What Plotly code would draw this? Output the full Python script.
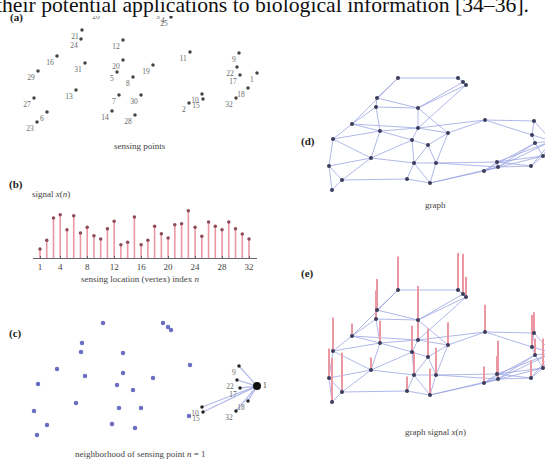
import plotly.graph_objects as go

W, H = 545, 462

# ---------------- data ----------------
node_ids = list(range(1, 33))
# sensing point locations (pixel-like units as in panel (a))
node_x = [257, 189, 163, 168, 117, 47, 119, 133, 239, 202, 190, 123, 76, 112, 203, 57,
          240, 248, 153, 123, 82, 237, 37, 81, 171, 103, 34, 135, 38, 141, 85, 236]
node_y = [73, 103, 10, 14, 72, 112, 95, 77, 53, 94, 52, 40, 90, 111, 99, 56,
          75, 88, 65, 60, 30, 67, 122, 39, 17, 10, 98, 115, 71, 95, 63, 98]
# signal x(n)
signal = [0.27, 0.53, 1.20, 1.30, 0.85, 1.27, 0.75, 0.92, 0.67, 0.57, 0.88, 1.10, 0.40, 0.47,
          1.23, 0.40, 0.53, 0.95, 0.73, 0.60, 1.00, 1.03, 1.42, 0.92, 0.65, 1.08, 0.95, 0.85,
          1.08, 0.88, 0.72, 0.57]
edges = [(26, 3), (26, 21), (26, 16), (3, 4), (4, 25), (3, 25), (25, 12), (25, 20), (4, 12),
         (21, 24), (21, 12), (24, 12), (24, 31), (24, 16), (16, 31), (16, 20), (16, 29),
         (12, 20), (12, 19), (31, 20), (31, 5), (31, 13), (31, 29), (20, 11), (20, 19),
         (20, 5), (11, 9), (11, 19), (11, 22), (29, 13), (29, 27), (13, 27), (13, 6),
         (13, 7), (13, 5), (5, 7), (5, 8), (8, 30), (8, 19), (8, 7), (7, 30), (7, 14),
         (7, 28), (30, 28), (30, 10), (30, 15), (19, 30), (27, 6), (27, 23), (6, 23),
         (6, 14), (14, 28), (28, 2), (28, 15), (2, 15), (2, 10), (10, 15), (10, 32),
         (15, 32), (10, 1), (15, 1), (2, 18), (10, 18), (15, 17), (2, 17), (9, 22),
         (22, 17), (17, 18), (18, 32), (9, 1), (22, 1), (17, 1), (18, 1), (32, 1)]
center_node = 1
b_ticks = [1, 4, 8, 12, 16, 20, 24, 28, 32]

# ---------------- helpers ----------------
SERIF = "Liberation Serif, Times New Roman, serif"
fig = go.Figure()


def xdom(p0, p1):
    return [p0 / W, p1 / W]


def ydom(p0, p1):
    return [1 - p1 / H, 1 - p0 / H]


def pixel_axes(idx, px0, px1, py0, py1, offx, offy):
    xa = dict(domain=xdom(px0, px1), range=[px0 - offx, px1 - offx], visible=False,
              anchor="y%d" % idx, fixedrange=True)
    ya = dict(domain=ydom(py0, py1), range=[py1 - offy, py0 - offy], visible=False,
              anchor="x%d" % idx, fixedrange=True)
    fig.layout["xaxis%d" % idx] = xa
    fig.layout["yaxis%d" % idx] = ya


pos = {n: (node_x[i], node_y[i]) for i, n in enumerate(node_ids)}
val = {n: signal[i] for i, n in enumerate(node_ids)}


def edge_xy(edge_list):
    ex, ey = [], []
    for a, b in edge_list:
        ex += [pos[a][0], pos[b][0], None]
        ey += [pos[a][1], pos[b][1], None]
    return ex, ey


EDGE = "rgba(150,160,225,0.75)"
NODE = "#3b3d5c"
STEM = "#ec98a3"
LABEL = "rgb(105,105,105)"

# ---------------- (a) sensing points ----------------
pixel_axes(1, 0, 280, 16, 142, 0, 0)
fig.add_trace(go.Scatter(x=node_x, y=node_y, xaxis="x1", yaxis="y1", mode="markers+text",
                         text=[str(n) for n in node_ids], textposition="bottom left",
                         textfont=dict(family=SERIF, size=7.5, color=LABEL),
                         marker=dict(size=3.5, color="#444"), showlegend=False))

# ---------------- (b) signal stem plot ----------------
px_per_n = (249 - 40) / 31.0
px_per_v = 100 / 3.0
fig.layout["xaxis2"] = dict(domain=xdom(33, 257),
                            range=[1 + (33 - 40) / px_per_n, 1 + (257 - 40) / px_per_n],
                            anchor="y2", showgrid=False, zeroline=False, showline=True,
                            linecolor="#666", linewidth=1.2, tickvals=b_ticks,
                            ticks="inside", ticklen=2, tickcolor="#666",
                            tickfont=dict(family=SERIF, size=9, color="#444"), fixedrange=True)
fig.layout["yaxis2"] = dict(domain=ydom(200, 258), range=[0, 58 / px_per_v], visible=False,
                            anchor="x2", fixedrange=True)
sx, sy = [], []
for n in node_ids:
    sx += [n, n, None]
    sy += [0, val[n], None]
fig.add_trace(go.Scatter(x=sx, y=sy, xaxis="x2", yaxis="y2", mode="lines",
                         line=dict(color=STEM, width=1.6), showlegend=False))
fig.add_trace(go.Scatter(x=node_ids, y=signal, xaxis="x2", yaxis="y2", mode="markers",
                         marker=dict(size=3.5, color="#8f4a58"), showlegend=False))

# ---------------- (c) neighborhood of n = 1 ----------------
pixel_axes(3, 0, 280, 300, 445, 0, 313)
nbrs = [b if a == center_node else a for a, b in edges if center_node in (a, b)]
cex, cey = edge_xy([(center_node, m) for m in nbrs])
fig.add_trace(go.Scatter(x=cex, y=cey, xaxis="x3", yaxis="y3", mode="lines",
                         line=dict(color="rgba(160,170,230,0.8)", width=1.3), showlegend=False))
others = [n for n in node_ids if n not in nbrs and n != center_node]
fig.add_trace(go.Scatter(x=[pos[n][0] for n in others], y=[pos[n][1] for n in others],
                         xaxis="x3", yaxis="y3", mode="markers",
                         marker=dict(size=4.5, color="#6a6fc2"), showlegend=False))
fig.add_trace(go.Scatter(x=[pos[n][0] for n in nbrs], y=[pos[n][1] for n in nbrs],
                         xaxis="x3", yaxis="y3", mode="markers+text",
                         text=[str(n) for n in nbrs], textposition="bottom left",
                         textfont=dict(family=SERIF, size=7.5, color=LABEL),
                         marker=dict(size=3.5, color="#222"), showlegend=False))
fig.add_trace(go.Scatter(x=[pos[center_node][0]], y=[pos[center_node][1]], xaxis="x3",
                         yaxis="y3", mode="markers+text", text=[str(center_node)],
                         textposition="middle right",
                         textfont=dict(family=SERIF, size=7.5, color="#333"),
                         marker=dict(size=8, color="#111"), showlegend=False, cliponaxis=False))

# ---------------- (d) graph ----------------
pixel_axes(4, 300, 545, 60, 200, 295, 68)
dex, dey = edge_xy(edges)
fig.add_trace(go.Scatter(x=dex, y=dey, xaxis="x4", yaxis="y4", mode="lines",
                         line=dict(color=EDGE, width=1), showlegend=False))
fig.add_trace(go.Scatter(x=node_x, y=node_y, xaxis="x4", yaxis="y4", mode="markers",
                         marker=dict(size=4, color=NODE), showlegend=False))

# ---------------- (e) graph signal ----------------
pixel_axes(5, 300, 545, 235, 420, 295, 280)
stem_scale = 31.0
fig.add_trace(go.Scatter(x=dex, y=dey, xaxis="x5", yaxis="y5", mode="lines",
                         line=dict(color=EDGE, width=1), showlegend=False))
ex_, ey_ = [], []
for n in node_ids:
    ex_ += [pos[n][0], pos[n][0], None]
    ey_ += [pos[n][1], pos[n][1] - stem_scale * val[n], None]
fig.add_trace(go.Scatter(x=ex_, y=ey_, xaxis="x5", yaxis="y5", mode="lines",
                         line=dict(color=STEM, width=2), showlegend=False))
fig.add_trace(go.Scatter(x=node_x, y=node_y, xaxis="x5", yaxis="y5", mode="markers",
                         marker=dict(size=4, color=NODE), showlegend=False))

# ---------------- text ----------------
def ann(text, px, py, size=9, color="#444", xanchor="center", bold=False):
    if bold:
        text = "<b>%s</b>" % text
    fig.add_annotation(text=text, x=px / W, y=1 - py / H, xref="paper", yref="paper",
                       xanchor=xanchor, yanchor="middle", showarrow=False,
                       font=dict(family=SERIF, size=size, color=color))


ann("their potential applications to biological information [34–36].", 531, 5.5,
    size=21.7, color="#111", xanchor="right")
ann("(a)", 8, 17, size=11, color="#222", xanchor="left", bold=True)
ann("(b)", 7, 185, size=11, color="#222", xanchor="left", bold=True)
ann("(c)", 7, 333, size=11, color="#222", xanchor="left", bold=True)
ann("(d)", 299, 142, size=11, color="#222", xanchor="left", bold=True)
ann("(e)", 299, 273, size=11, color="#222", xanchor="left", bold=True)
ann("sensing points", 140, 146)
ann("signal <i>x</i>(<i>n</i>)", 30, 194, xanchor="left")
ann("sensing location (vertex) index <i>n</i>", 140, 279)
ann("neighborhood of sensing point <i>n</i> = 1", 140, 454)
ann("graph", 435, 205)
ann("graph signal <i>x</i>(<i>n</i>)", 435, 432)

fig.update_layout(width=W, height=H, margin=dict(l=0, r=0, t=0, b=0),
                  paper_bgcolor="white", plot_bgcolor="white", showlegend=False)
fig.write_html("out.html", config={"displayModeBar": False},
               post_script="document.body.style.margin='0';document.body.style.overflow='hidden';")
